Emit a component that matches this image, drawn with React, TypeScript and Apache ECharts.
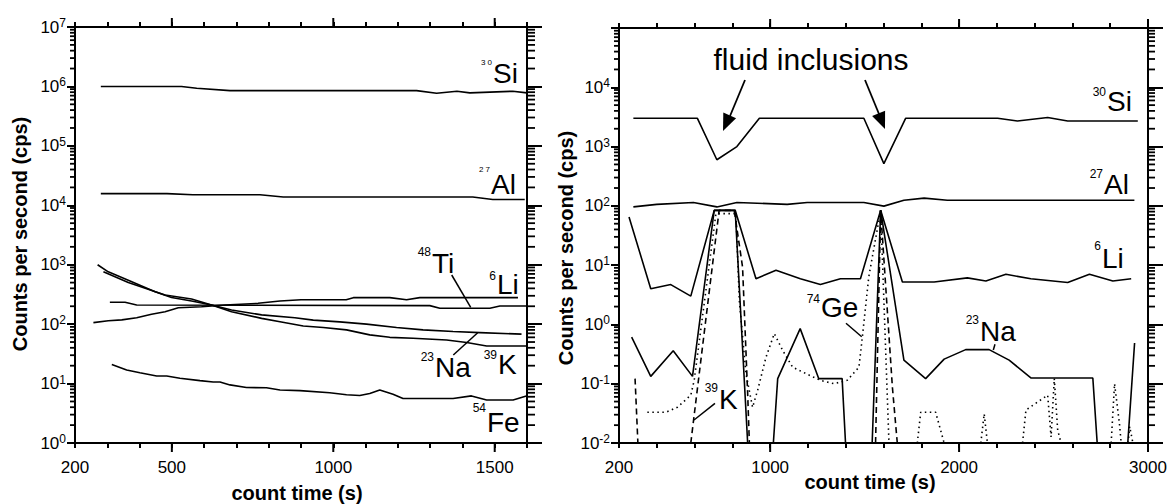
import React, { useEffect, useRef } from 'react';
import * as echarts from 'echarts';

// ---------- Left panel: [count time (s), counts per second]
const siLeft = [[280, 1.0e6], [530, 1.0e6], [577, 0.93e6], [680, 0.85e6], [1258, 0.85e6], [1320, 0.77e6], [1383, 0.83e6], [1423, 0.78e6], [1556, 0.83e6], [1600, 0.78e6]];
const alLeft = [[280, 1.57e4], [485, 1.57e4], [565, 1.5e4], [773, 1.5e4], [845, 1.38e4], [1432, 1.38e4], [1494, 1.25e4], [1593, 1.25e4]];
const tiLeft = [[308, 233], [355, 233], [391, 210], [1299, 205], [1330, 185], [1485, 185], [1516, 202], [1600, 202]];
const liLeft = [[257, 106], [303, 114], [345, 118], [391, 128], [437, 147], [479, 162], [520, 189], [592, 196], [664, 210], [767, 224], [835, 245], [900, 258], [1040, 258], [1062, 279], [1175, 279], [1227, 258], [1268, 279], [1572, 279]];
const kLeft = [[270, 1000], [303, 760], [365, 550], [448, 350], [499, 280], [561, 245], [623, 210], [685, 162], [778, 125], [835, 110], [907, 93], [969, 88], [1041, 80], [1113, 66], [1175, 60], [1247, 58], [1351, 54], [1413, 49], [1475, 43], [1598, 43]];
const naLeft = [[288, 760], [365, 500], [479, 310], [561, 265], [623, 210], [685, 173], [778, 143], [881, 128], [938, 117], [1020, 109], [1103, 100], [1196, 88], [1278, 80], [1371, 75], [1454, 72], [1583, 68]];
const feLeft = [[314, 21], [360, 16.9], [401, 15.2], [453, 13.4], [484, 13.4], [525, 12.3], [587, 11.2], [628, 10.6], [649, 10.6], [680, 9.5], [731, 8.6], [793, 8.5], [835, 7.8], [897, 7.6], [989, 7.0], [1041, 6.5], [1082, 6.3], [1113, 6.8], [1144, 7.8], [1185, 6.6], [1216, 5.6], [1371, 5.6], [1428, 6.2], [1475, 5.3], [1557, 5.3], [1598, 6.2]];

// ---------- Right panel: [count time (s), counts per second]  (null = gap, trace below axis)
const siRight = [[276, 3000], [615, 3000], [718, 600], [824, 1000], [943, 3000], [1496, 3000], [1602, 515], [1717, 3000], [2204, 3000], [2309, 2700], [2469, 3100], [2575, 2700], [2946, 2700]];
const alRight = [[276, 96], [400, 106], [594, 114], [718, 96], [824, 114], [1090, 106], [1196, 114], [1496, 114], [1602, 99], [1708, 124], [1815, 135], [1938, 124], [2928, 124]];
const liRight = [[253, 65], [368, 4.0], [474, 4.7], [580, 3.0], [704, 84], [815, 84], [925, 5.9], [1031, 8.2], [1160, 5.9], [1266, 4.7], [1372, 5.9], [1478, 5.9], [1585, 84], [1700, 5.2], [1868, 5.2], [2044, 6.1], [2142, 5.4], [2248, 7.0], [2380, 5.9], [2575, 5.1], [2690, 7.0], [2814, 5.4], [2911, 5.9]];
const naRight = [[267, 0.61], [368, 0.133], [487, 0.36], [589, 0.133], [704, 84], [815, 84], [881, 0.01], [949, null], [1017, 0.01], [1040, 0.122], [1159, 0.85], [1257, 0.122], [1381, 0.122], [1399, 0.01], [1470, null], [1540, 0.01], [1585, 84], [1708, 0.25], [1823, 0.122], [1921, 0.26], [2035, 0.376], [2159, 0.376], [2265, 0.25], [2380, 0.125], [2708, 0.125], [2731, 0.01], [2800, null], [2893, 0.01], [2929, 0.485]];
const kRight = [[285, 0.122], [300, 0.01], [400, null], [580, 0.01], [730, 84], [810, 84], [854, 9.3], [881, 0.068], [890, 0.01], [1000, null], [1558, 0.01], [1585, 84], [1647, 0.088], [1673, 0.01]];
const geRight = [[350, 0.033], [448, 0.033], [509, 0.04], [580, 0.064], [598, 0.114], [713, 74], [819, 74], [837, 2.5], [872, 0.148], [907, 0.04], [934, 0.078], [978, 0.28], [1022, 0.70], [1066, 0.366], [1119, 0.19], [1208, 0.139], [1266, 0.114], [1337, 0.1], [1408, 0.114], [1470, 0.19], [1488, 0.61], [1522, 6.3], [1585, 84], [1629, 0.01], [1700, null], [1779, 0.01], [1797, 0.033], [1876, 0.033], [1921, 0.01], [2000, null], [2115, 0.01], [2133, 0.031], [2150, 0.01], [2250, null], [2336, 0.01], [2354, 0.036], [2415, 0.049], [2469, 0.064], [2487, 0.0126], [2504, 0.122], [2522, 0.0164], [2540, 0.01], [2650, null], [2805, 0.01], [2823, 0.1], [2849, 0.021], [2858, 0.01], [2880, null], [2895, 0.01], [2903, 0.019], [2920, 0.01]];

// ---------- Axis ticks / labels
const leftXLabels = [200, 500, 1000, 1500];
const leftXMajor = [500, 1000, 1500];
const rightXLabels = [200, 1000, 2000, 3000];
const rightXMajor = [1000, 2000, 3000];
const leftYExps = [0, 1, 2, 3, 4, 5, 6, 7];
const rightYExps = [-2, -1, 0, 1, 2, 3, 4];

const FONT = '"Liberation Sans", Arial, Helvetica, sans-serif';
const BLACK = '#000';

function minorLogValues(lo: number, hi: number) {
  const out: number[] = [];
  for (let n = lo; n < hi; n++) for (let k = 2; k <= 9; k++) out.push(k * Math.pow(10, n));
  return out;
}

function xAxesFor(grid: number, min: number, max: number, step: number, labels: number[]) {
  const base = {
    type: 'value', gridIndex: grid, min, max, interval: step, splitLine: { show: false },
    axisLine: { show: true, onZero: false, lineStyle: { color: BLACK, width: 2 } },
  };
  return [
    {
      ...base, position: 'bottom',
      axisTick: { show: true, length: 5, lineStyle: { color: BLACK, width: 2 } },
      axisLabel: {
        formatter: (v: number) => (labels.includes(Math.round(v)) ? String(Math.round(v)) : ''),
        fontSize: 17, color: BLACK, fontFamily: FONT, margin: 16, showMinLabel: true, showMaxLabel: true,
      },
    },
    { ...base, position: 'top', axisTick: { show: true, length: 5, lineStyle: { color: BLACK, width: 2 } }, axisLabel: { show: false } },
  ];
}

function yAxesFor(grid: number, lo: number, hi: number, labelExps: number[]) {
  const logBase = {
    type: 'log', logBase: 10, gridIndex: grid, min: Math.pow(10, lo), max: Math.pow(10, hi), splitLine: { show: false },
    axisLine: { show: true, onZero: false, lineStyle: { color: BLACK, width: 2 } },
  };
  return [
    {
      ...logBase, position: 'left',
      axisTick: { show: true, length: 8, lineStyle: { color: BLACK, width: 2 } },
      axisLabel: {
        margin: 9, color: BLACK, fontFamily: FONT,
        formatter: (v: number) => {
          const e = Math.round(Math.log10(v));
          return labelExps.includes(e) ? `{b|10}{e|${e}}` : '';
        },
        rich: {
          b: { fontSize: 17, fontFamily: FONT, color: BLACK, verticalAlign: 'middle' },
          e: { fontSize: 12, fontFamily: FONT, color: BLACK, verticalAlign: 'middle', padding: [0, 0, 8, 0] },
        },
      },
    },
    { ...logBase, position: 'right', axisTick: { show: true, length: 15, lineStyle: { color: BLACK, width: 2 } }, axisLabel: { show: false } },
  ];
}

function lineSeries(data: any[], axis: number, dash?: any) {
  return {
    type: 'line', data, xAxisIndex: axis, yAxisIndex: axis, showSymbol: false, symbol: 'none',
    clip: true, silent: true, connectNulls: false,
    lineStyle: { color: BLACK, width: 1.6, type: dash || 'solid' },
  };
}

function seg(x1: number, y1: number, x2: number, y2: number, w = 1.5) {
  return { type: 'line', shape: { x1, y1, x2, y2 }, style: { stroke: BLACK, lineWidth: w } };
}

// superscript is right-aligned just left of the element symbol
function elemLabel(sy: number, sup: string, mx: number, my: number, main: string, supSize = 12) {
  return [
    { type: 'text', x: mx - 1, y: sy, style: { text: sup, fontSize: supSize, fontFamily: FONT, fill: BLACK, align: 'right', verticalAlign: 'middle' } },
    { type: 'text', x: mx, y: my, style: { text: main, fontSize: 28, fontFamily: FONT, fill: BLACK, align: 'left', verticalAlign: 'middle' } },
  ];
}

function title(x: number, y: number, text: string, rotate = 0) {
  return {
    type: 'text', x, y, rotation: rotate,
    style: { text, fontSize: 20, fontWeight: 'bold', fontFamily: FONT, fill: BLACK, align: 'center', verticalAlign: 'middle' },
  };
}

function buildAnnotations(): any[] {
  return [
    title(20, 234, 'Counts per second (cps)', Math.PI / 2),
    title(566, 248, 'Counts per second (cps)', Math.PI / 2),
    title(297, 493, 'count time (s)'),
    title(870, 482, 'count time (s)'),
    // left panel labels
    ...elemLabel(62, '3 0', 493, 73, 'Si', 8),
    ...elemLabel(169, '2 7', 491, 184, 'Al', 8),
    ...elemLabel(252, '48', 432, 263, 'Ti'),
    ...elemLabel(276, '6', 497, 284, 'Li'),
    ...elemLabel(357, '23', 435, 367, 'Na'),
    ...elemLabel(355, '39', 498, 364, 'K'),
    ...elemLabel(408, '54', 487, 422, 'Fe'),
    seg(451.7, 275, 470.7, 307.3),
    seg(453.3, 355, 477.7, 332.7),
    // right panel labels
    ...elemLabel(92, '30', 1107, 101, 'Si'),
    ...elemLabel(174, '27', 1104, 184, 'Al'),
    ...elemLabel(246, '6', 1102, 258, 'Li'),
    ...elemLabel(320, '23', 980, 331, 'Na'),
    ...elemLabel(299, '74', 821, 307.5, 'Ge'),
    ...elemLabel(388, '39', 719, 399, 'K'),
    seg(995, 344.3, 993.3, 350),
    seg(846, 323.3, 861.7, 336.7),
    seg(715, 403.3, 694, 420),
    {
      type: 'text', x: 811, y: 59,
      style: { text: 'fluid inclusions', fontSize: 30, fontFamily: FONT, fill: BLACK, align: 'center', verticalAlign: 'middle' },
    },
    seg(745, 80, 730, 116, 1.8),
    { type: 'polygon', shape: { points: [[723, 131], [736.1, 118.2], [723.3, 112.6]] }, style: { fill: BLACK } },
    seg(865, 80, 879, 114, 1.8),
    { type: 'polygon', shape: { points: [[885, 129], [885.1, 110.7], [872.1, 115.9]] }, style: { fill: BLACK } },
  ];
}

export default function App() {
  const ref = useRef<HTMLDivElement>(null);
  useEffect(() => {
    if (!ref.current) return;
    const chart = echarts.init(ref.current, null, { renderer: 'svg' });
    chart.setOption({
      animation: false,
      backgroundColor: '#fff',
      grid: [
        { left: 75, top: 27, width: 452, height: 416 },
        { left: 619, top: 28, width: 529, height: 415 },
      ],
      xAxis: [
        ...xAxesFor(0, 200, 1600, 100, leftXLabels),
        ...xAxesFor(1, 200, 3000, 200, rightXLabels),
      ],
      yAxis: [
        ...yAxesFor(0, 0, 7, leftYExps),
        ...yAxesFor(1, -2, 5, rightYExps),
      ],
      series: [
        lineSeries(siLeft, 0), lineSeries(alLeft, 0), lineSeries(tiLeft, 0), lineSeries(liLeft, 0),
        lineSeries(kLeft, 0), lineSeries(naLeft, 0), lineSeries(feLeft, 0),
        lineSeries(siRight, 2), lineSeries(alRight, 2), lineSeries(liRight, 2), lineSeries(naRight, 2),
        lineSeries(kRight, 2, [6, 4]), lineSeries(geRight, 2, [1.5, 3.5]),
      ],
      graphic: buildAnnotations(),
    } as any);

    // minor log ticks and long major x ticks, positioned through the chart's own scales
    const ticks: any[] = [];
    const addYMinor = (ax: number, lo: number, hi: number, xmin: number, xmax: number, lenL: number, lenR: number) => {
      const f: any = { xAxisIndex: ax, yAxisIndex: ax };
      for (const v of minorLogValues(lo, hi)) {
        const pL = chart.convertToPixel(f, [xmin, v]) as any;
        const pR = chart.convertToPixel(f, [xmax, v]) as any;
        if (!pL || !pR || isNaN(pL[1])) continue;
        ticks.push(seg(pL[0], pL[1], pL[0] - lenL, pL[1], 1.8));
        ticks.push(seg(pR[0], pR[1], pR[0] + lenR, pR[1], 1.8));
      }
    };
    const addXMajor = (ax: number, majors: number[], ymin: number, ymax: number, len: number) => {
      const f: any = { xAxisIndex: ax, yAxisIndex: ax };
      for (const v of majors) {
        const pB = chart.convertToPixel(f, [v, ymin]) as any;
        const pT = chart.convertToPixel(f, [v, ymax]) as any;
        if (!pB || !pT || isNaN(pB[0])) continue;
        ticks.push(seg(pB[0], pB[1], pB[0], pB[1] + len, 2));
        ticks.push(seg(pT[0], pT[1], pT[0], pT[1] - len, 2));
      }
    };
    addYMinor(0, 0, 7, 200, 1600, 5, 8);
    addYMinor(2, -2, 5, 200, 3000, 5, 7);
    addXMajor(0, leftXMajor, 1, 1e7, 9);
    addXMajor(2, rightXMajor, 0.01, 1e5, 9);
    chart.setOption({ graphic: [...buildAnnotations(), ...ticks] } as any);

    return () => chart.dispose();
  }, []);
  return (
    <div
      ref={ref}
      style={{ position: 'fixed', left: 0, top: 0, width: 1170, height: 504, background: '#fff' }}
    />
  );
}
